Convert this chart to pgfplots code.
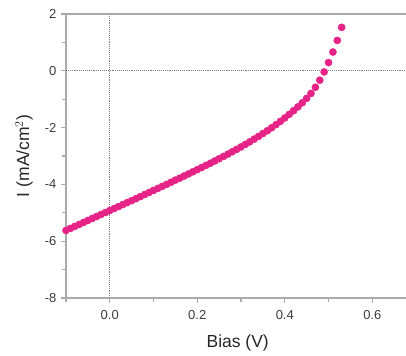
\documentclass[border=0pt]{standalone}
\usepackage{pgfplots}
\pgfplotsset{compat=1.18}
\usepackage{fontspec}
\setmainfont{Liberation Sans}
\definecolor{dotpink}{RGB}{230,35,135}
\definecolor{axgray}{RGB}{170,170,170}
\definecolor{txtgray}{RGB}{60,60,60}
\begin{document}
\begin{tikzpicture}
\begin{axis}[
  scale only axis,
  width=340pt, height=284pt,
  xmin=-0.1, xmax=0.677,
  ymin=-8, ymax=2,
  axis x line*=box, axis y line*=left,
  axis line style={-, draw=axgray, line width=2.2pt},
  xtick={0,0.2,0.4,0.6},
  xticklabels={0.0,0.2,0.4,0.6},
  ytick={-8,-6,-4,-2,0,2},
  minor xtick={-0.1,0.1,0.3,0.5},
  minor ytick={-7,-5,-3,-1,1},
  xtick pos=bottom, ytick pos=left,
  tick align=outside,
  major tick length=5pt, minor tick length=4pt,
  every tick/.style={draw=axgray, line width=1.2pt},
  /pgf/number format/assume math mode=true,
  ticklabel style={font=\fontsize{13}{15}\selectfont, text=txtgray},
  xticklabel style={yshift=-4pt},
  yticklabel style={xshift=-1pt},
  xlabel={Bias (V)},
  ylabel={I (mA/cm$^2$)},
  label style={font=\fontsize{17.5}{20}\selectfont, text=black!85},
  xlabel style={at={(axis description cs:0.505,-0.158)}, anchor=center},
  ylabel style={at={(axis description cs:-0.124,0.5)}, anchor=center},
  clip=false,
]
\draw[densely dotted, gray, line width=0.9pt] (axis cs:0,-8) -- (axis cs:0,2);
\draw[densely dotted, gray, line width=0.9pt] (axis cs:-0.1,0) -- (axis cs:0.677,0);
\addplot[only marks, mark=*, mark size=3.6pt, color=dotpink, fill=dotpink] coordinates {
(-0.10,-5.62) (-0.09,-5.55) (-0.08,-5.48) (-0.07,-5.41) (-0.06,-5.34)
(-0.05,-5.27) (-0.04,-5.20) (-0.03,-5.13) (-0.02,-5.06) (-0.01,-4.99)
(0.00,-4.92) (0.01,-4.85) (0.02,-4.78) (0.03,-4.71) (0.04,-4.64)
(0.05,-4.57) (0.06,-4.50) (0.07,-4.43) (0.08,-4.355) (0.09,-4.285)
(0.10,-4.21) (0.11,-4.14) (0.12,-4.07) (0.13,-4.00) (0.14,-3.925)
(0.15,-3.85) (0.16,-3.78) (0.17,-3.705) (0.18,-3.63) (0.19,-3.555)
(0.20,-3.48) (0.21,-3.405) (0.22,-3.33) (0.23,-3.255) (0.24,-3.175)
(0.25,-3.095) (0.26,-3.015) (0.27,-2.935) (0.28,-2.85) (0.29,-2.765)
(0.30,-2.68) (0.31,-2.59) (0.32,-2.50) (0.33,-2.405) (0.34,-2.31)
(0.35,-2.21) (0.36,-2.11) (0.37,-2.005) (0.38,-1.895) (0.39,-1.78)
(0.40,-1.66) (0.41,-1.535) (0.42,-1.405) (0.43,-1.27) (0.44,-1.125)
(0.45,-0.97) (0.46,-0.795) (0.47,-0.58) (0.48,-0.33) (0.49,-0.04)
(0.50,0.29) (0.51,0.66) (0.52,1.07) (0.53,1.53)
};
\coordinate (bl) at (rel axis cs:-0.1941,-0.2042);
\coordinate (tr) at (rel axis cs:1,1.0493);
\end{axis}
\pgfresetboundingbox
\path[use as bounding box] (bl) rectangle (tr);
\end{tikzpicture}
\end{document}
